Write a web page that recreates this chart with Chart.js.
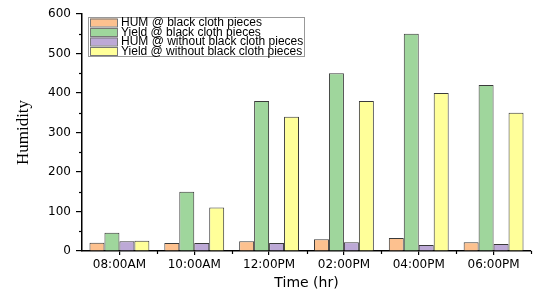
<!DOCTYPE html>
<html>
<head>
<meta charset="utf-8">
<script src="https://cdn.jsdelivr.net/npm/chart.js@4/dist/chart.umd.min.js"></script>
<style>
  html, body { margin: 0; padding: 0; background: #fff; }
  #wrap { width: 543px; height: 295px; }
</style>
</head>
<body>
<div id="wrap"><canvas id="myChart"></canvas></div>
<script>
const times = ['08:00AM', '10:00AM', '12:00PM', '02:00PM', '04:00PM', '06:00PM'];
const humBlack = [21, 20, 25, 30, 33, 22];
const yieldBlack = [46, 150, 380, 450, 550, 420];
const humWithout = [25, 20, 20, 22, 15, 18];
const yieldWithout = [26, 110, 340, 380, 400, 350];
const yTicks = [0, 100, 200, 300, 400, 500, 600];
const yMinor = [50, 150, 250, 350, 450, 550];

const barStyle = { borderColor: '#3a3a3a', borderWidth: 1, barPercentage: 1, categoryPercentage: 0.8 };

// minor ticks + legend box in top left of plot
const extras = {
    id: 'extras',
    afterDraw(chart) {
        const c = chart.ctx, x = chart.scales.x, y = chart.scales.y;
        c.save();
        c.strokeStyle = '#000';
        c.lineWidth = 1.2;
        yMinor.forEach(v => {
            const py = Math.round(y.getPixelForValue(v)) + 0.5;
            c.beginPath(); c.moveTo(x.left - 3, py); c.lineTo(x.left, py); c.stroke();
        });
        const step = x.getPixelForValue(1) - x.getPixelForValue(0);
        for (let i = 0; i < times.length; i++) {
            const px = Math.round(x.getPixelForValue(i) + step / 2) + 0.5;
            c.beginPath(); c.moveTo(px, y.bottom); c.lineTo(px, y.bottom + 3); c.stroke();
        }
        // legend
        const lx = 88, ly = 17;
        c.fillStyle = '#fff';
        c.fillRect(lx, ly, 216, 39);
        c.strokeStyle = '#999';
        c.lineWidth = 1;
        c.strokeRect(lx + 0.5, ly + 0.5, 216, 39);
        c.font = '12px "Liberation Sans", Arial, sans-serif';
        c.textBaseline = 'middle';
        chart.data.datasets.forEach((ds, i) => {
            const ry = ly + 5.5 + i * 9.5;
            c.fillStyle = ds.backgroundColor;
            c.fillRect(lx + 2, ry - 4, 27, 8);
            c.strokeStyle = '#777';
            c.strokeRect(lx + 2.5, ry - 3.5, 27, 8);
            c.fillStyle = '#000';
            c.fillText(ds.label, lx + 33, ry + 0.5);
        });
        c.restore();
    }
};

new Chart(document.getElementById('myChart'), {
    type: 'bar',
    data: {
        labels: times,
        datasets: [
            { label: 'HUM @ black cloth pieces', data: humBlack, backgroundColor: '#fdc18f', ...barStyle },
            { label: 'Yield @ black cloth pieces', data: yieldBlack, backgroundColor: '#9fd69c', ...barStyle },
            { label: 'HUM @ without black cloth pieces', data: humWithout, backgroundColor: '#bda9d6', ...barStyle },
            { label: 'Yield @ without black cloth pieces', data: yieldWithout, backgroundColor: '#ffff99', ...barStyle }
        ]
    },
    options: {
        responsive: true,
        maintainAspectRatio: false,
        animation: false,
        layout: { padding: { left: 0, right: 12, top: 14, bottom: 0 } },
        plugins: { legend: { display: false }, tooltip: { enabled: false } },
        scales: {
            x: {
                grid: { offset: false, drawOnChartArea: false, drawTicks: true, tickLength: 4, color: '#000', lineWidth: 1.2 },
                border: { color: '#000', width: 1.5 },
                ticks: { color: '#000', font: { family: 'DejaVu Sans', size: 12 }, padding: 3, maxRotation: 0 },
                title: { display: true, text: 'Time (hr)', color: '#000', font: { family: 'DejaVu Sans', size: 14 }, padding: { top: 0, bottom: 3 } },
                afterFit(s) { s.height = 44; }
            },
            y: {
                min: 0,
                max: 600,
                afterBuildTicks(s) { s.ticks = yTicks.map(v => ({ value: v })); },
                grid: { drawOnChartArea: false, drawTicks: true, tickLength: 6, color: '#000', lineWidth: 1.2 },
                border: { color: '#000', width: 1.5 },
                ticks: { color: '#000', font: { family: 'DejaVu Sans', size: 12 }, padding: 5 },
                title: { display: true, text: 'Humidity', color: '#000', font: { family: '"Liberation Serif", "Times New Roman", serif', size: 17 }, padding: { top: 13, bottom: 0 } },
                afterFit(s) { s.width = 82; }
            }
        }
    },
    plugins: [extras]
});
</script>
</body>
</html>
